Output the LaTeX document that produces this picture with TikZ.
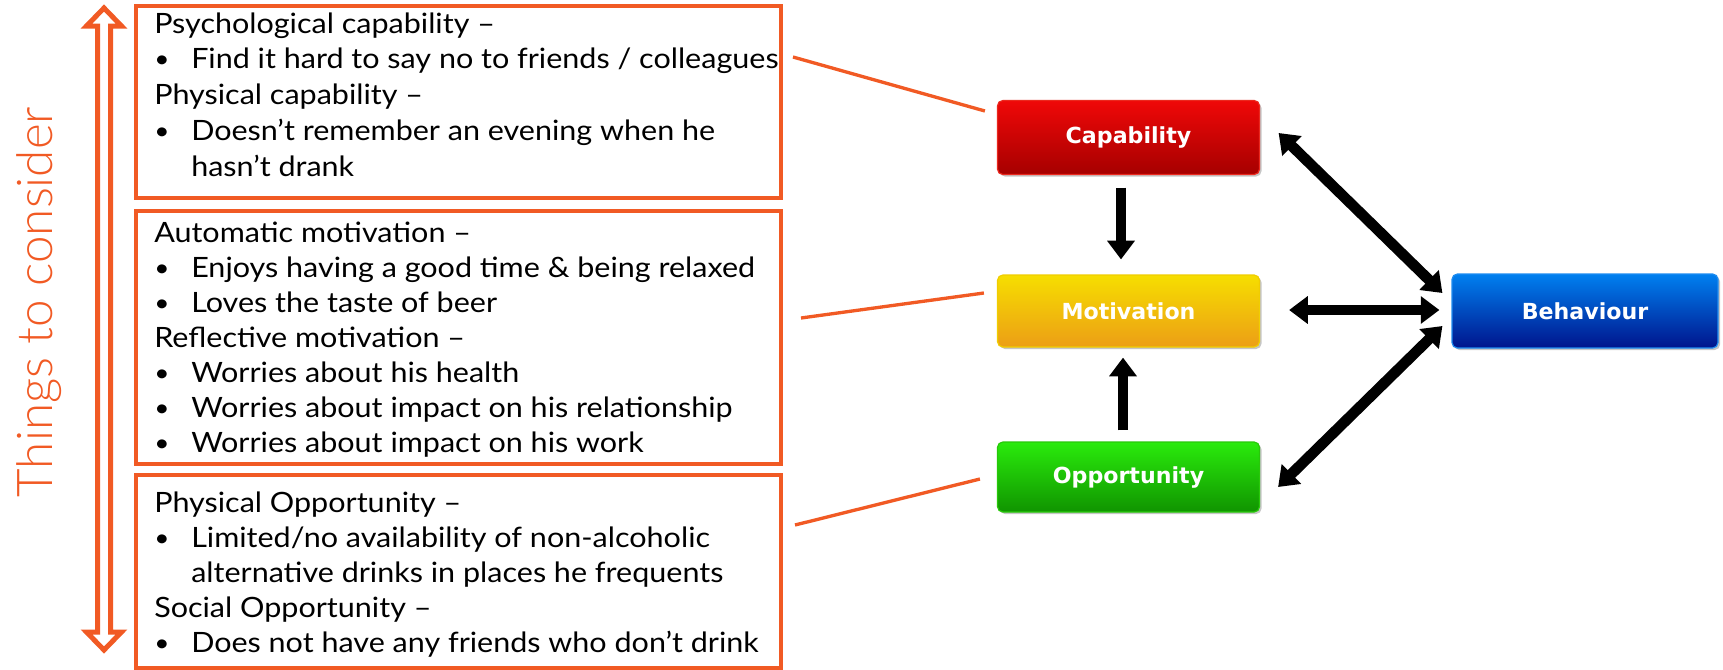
\documentclass[tikz,border=0pt]{standalone}
\usepackage{fontspec}
\setmainfont{Lato}[FakeStretch=1.09]
\newfontfamily\thinfont{Lato Light}
\newfontfamily\nodefont{DejaVu Sans}
\usetikzlibrary{arrows.meta,shadows,calc}
\definecolor{orng}{RGB}{241,90,36}
\definecolor{capTop}{RGB}{240,8,8}
\definecolor{capBot}{RGB}{165,0,0}
\definecolor{capBd}{RGB}{235,40,30}
\definecolor{motTop}{RGB}{246,222,0}
\definecolor{motBot}{RGB}{236,158,22}
\definecolor{motBd}{RGB}{240,205,0}
\definecolor{oppTop}{RGB}{42,235,12}
\definecolor{oppBot}{RGB}{16,148,0}
\definecolor{oppBd}{RGB}{40,200,10}
\definecolor{behTop}{RGB}{0,128,240}
\definecolor{behBot}{RGB}{0,20,140}
\definecolor{behBd}{RGB}{30,140,240}
\newcommand{\bl}[1]{\makebox[27.75pt][l]{\raisebox{0.7pt}{\fontsize{18}{18}\selectfont\textbullet}}#1}
\newcommand{\cont}[1]{\hspace*{27.75pt}#1}
\begin{document}
\begin{tikzpicture}[x=0.75pt,y=-0.75pt,
  obox/.style={draw=orng, line width=3pt, anchor=north west, minimum width=483.75pt, inner sep=0pt},
  btext/.style={anchor=base west, inner sep=0pt, align=left, font=\fontsize{21}{26.25}\selectfont},
  combox/.style={rounded corners=4pt, line width=0.9pt, minimum width=196.5pt, inner sep=0pt,
     text=white, font=\nodefont\bfseries\fontsize{16.6}{16.6}\selectfont,
     drop shadow={opacity=0.45, shadow xshift=1.5pt, shadow yshift=-1.5pt}},
  oline/.style={draw=orng, line width=2.5pt},
  barrow/.style={draw=black, line width=8pt, -{Triangle[width=20pt,length=14pt]}},
  bbarrow/.style={draw=black, line width=8pt, {Triangle[width=20pt,length=14pt]}-{Triangle[width=20pt,length=14pt]}}
]
\useasboundingbox (0,0) rectangle (1723,669);

% left hollow double arrow
\draw[orng, line width=3.75pt, fill=white, line join=miter]
  (104,8) -- (121.5,26) -- (110.5,26) -- (110.5,632) -- (121.5,632) -- (104,650)
  -- (86.5,632) -- (97.5,632) -- (97.5,26) -- (86.5,26) -- cycle;
\node[rotate=90, anchor=base, inner sep=0pt, text=orng, font=\thinfont\fontsize{37}{37}\selectfont] (tc) at (52,302) {Things to consider};

% boxes
\node[obox, minimum height=144pt] (b1) at (134,4) {};
\node[obox, minimum height=189.75pt] (b2) at (134,209) {};
\node[obox, minimum height=144.75pt] (b3) at (134,473) {};

\node[btext, font=\fontsize{21}{26.8}\selectfont] (t1) at (154,176) {Psychological capability –\\
\bl{Find it hard to say no to friends / colleagues}\\
Physical capability –\\
\bl{Doesn’t remember an evening when he}\\
\cont{hasn’t drank}};

\node[btext] (t2) at (154,452.5) {Automatic motivation –\\
\bl{Enjoys having a good time \& being relaxed}\\
\bl{Loves the taste of beer}\\
Reflective motivation –\\
\bl{Worries about his health}\\
\bl{Worries about impact on his relationship}\\
\bl{Worries about impact on his work}};

\node[btext] (t3) at (154,652) {Physical Opportunity –\\
\bl{Limited/no availability of non-alcoholic}\\
\cont{alternative drinks in places he frequents}\\
Social Opportunity –\\
\bl{Does not have any friends who don’t drink}};

% COM-B nodes
\node[combox, draw=capBd, top color=capTop, bottom color=capBot, minimum height=55.5pt] (cap) at (1128.5,137.5) {Capability};
\node[combox, draw=motBd, top color=motTop, bottom color=motBot, minimum height=54pt] (mot) at (1128.5,311) {Motivation};
\node[combox, draw=oppBd, top color=oppTop, bottom color=oppBot, minimum height=52.5pt] (opp) at (1128.5,477) {Opportunity};
\node[combox, draw=behBd, top color=behTop, bottom color=behBot, minimum height=55.5pt, minimum width=199.5pt] (beh) at (1585,311) {Behaviour};

% orange connectors
\draw[oline] ([shift={(10,-45)}]b1.east) -- ([shift={(-12,-26.5)}]cap.west);
\draw[oline] ([shift={(18,-19.5)}]b2.east) -- ([shift={(-13,-18)}]mot.west);
\draw[oline] ([shift={(12,-46.5)}]b3.east) -- ([shift={(-17,2)}]opp.west);

% black arrows
\draw[barrow] ([shift={(-7.5,12.5)}]cap.south) -- ([shift={(-7.5,-15)}]mot.north);
\draw[barrow] ([shift={(-5.5,-11)}]opp.north) -- ([shift={(-5.5,10)}]mot.south);
\draw[bbarrow] ([shift={(18.5,-4.5)}]cap.east) -- ([shift={(-9,-18)}]beh.west);
\draw[bbarrow] ([shift={(29,-1)}]mot.east) -- ([shift={(-12,-1)}]beh.west);
\draw[bbarrow] ([shift={(18,10)}]opp.east) -- ([shift={(-9,15)}]beh.west);
\end{tikzpicture}
\end{document}
